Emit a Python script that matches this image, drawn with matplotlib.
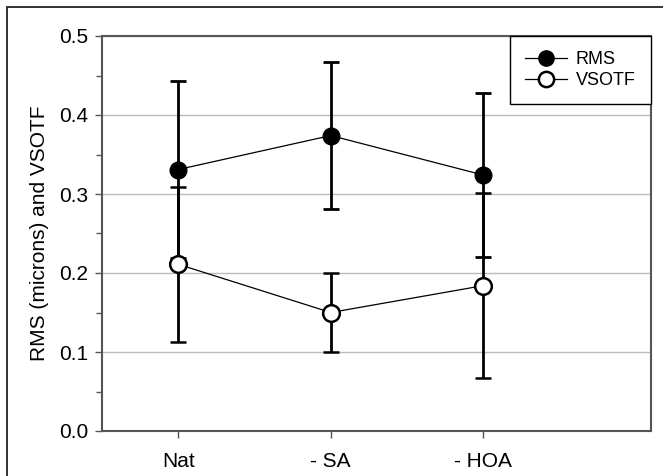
import matplotlib.pyplot as plt
from matplotlib.lines import Line2D
from matplotlib.patches import Rectangle
from matplotlib.ticker import MultipleLocator

plt.rcParams['font.family'] = ['Liberation Sans', 'DejaVu Sans']

categories = ['Nat', '- SA', '- HOA']
rms = [0.331, 0.374, 0.324]
rms_err = [0.112, 0.093, 0.104]
vsotf = [0.211, 0.150, 0.184]
vsotf_err = [0.098, 0.050, 0.117]

fig = plt.figure(figsize=(6.63, 4.76), dpi=100)
ax = fig.add_axes([102 / 663, 1 - 431 / 476, 549 / 663, 395 / 476])

# outer frame (only left and top visible in reference)
fig.patches.append(Rectangle((7 / 663, -0.1), 1.2, 1 - 7 / 476 + 0.1,
                             transform=fig.transFigure, fill=False,
                             edgecolor='#222222', linewidth=1.3))

x = [1, 2, 3]
ax.errorbar(x, rms, yerr=rms_err, color='black', linewidth=0.9,
            elinewidth=2.0, capsize=6, capthick=2.0, marker='o',
            markersize=12, markerfacecolor='black', markeredgecolor='black',
            zorder=3)
ax.errorbar(x, vsotf, yerr=vsotf_err, color='black', linewidth=0.9,
            elinewidth=2.0, capsize=6, capthick=2.0, marker='o',
            markersize=12, markerfacecolor='white', markeredgecolor='black',
            markeredgewidth=1.8, zorder=4)

ax.set_xlim(0.5, 4.1)
ax.set_ylim(0, 0.5)
ax.set_xticks(x)
ax.set_xticklabels(categories)
ax.yaxis.set_major_locator(MultipleLocator(0.1))
ax.yaxis.set_minor_locator(MultipleLocator(0.05))
ax.set_yticklabels([f'{v:.1f}' for v in ax.get_yticks()])
ax.tick_params(axis='both', which='major', direction='out', length=5,
               width=1, color='#555555', labelsize=15, pad=5)
ax.tick_params(axis='x', pad=10)
ax.tick_params(axis='y', which='minor', direction='out', length=4,
               width=1, color='#555555')
ax.set_ylabel('RMS (microns) and VSOTF', fontsize=15, labelpad=7)

for sp in ax.spines.values():
    sp.set_color('#555555')
    sp.set_linewidth(1.5)

ax.grid(axis='y', color='#bbbbbb', linewidth=1.0)
ax.set_axisbelow(True)

handles = [
    Line2D([], [], color='black', linewidth=0.9, marker='o', markersize=11,
           markerfacecolor='black', markeredgecolor='black'),
    Line2D([], [], color='black', linewidth=0.9, marker='o', markersize=11,
           markerfacecolor='white', markeredgecolor='black',
           markeredgewidth=1.8),
]
leg = ax.legend(handles, ['RMS', 'VSOTF'], loc='upper right',
                bbox_to_anchor=(1.0, 1.0), fontsize=13, frameon=True,
                fancybox=False, edgecolor='black', borderaxespad=0,
                handlelength=2.3, handletextpad=0.5, borderpad=0.85,
                labelspacing=0.2, framealpha=1)
leg.get_frame().set_linewidth(1.0)

fig.savefig('out.png', dpi=100)
